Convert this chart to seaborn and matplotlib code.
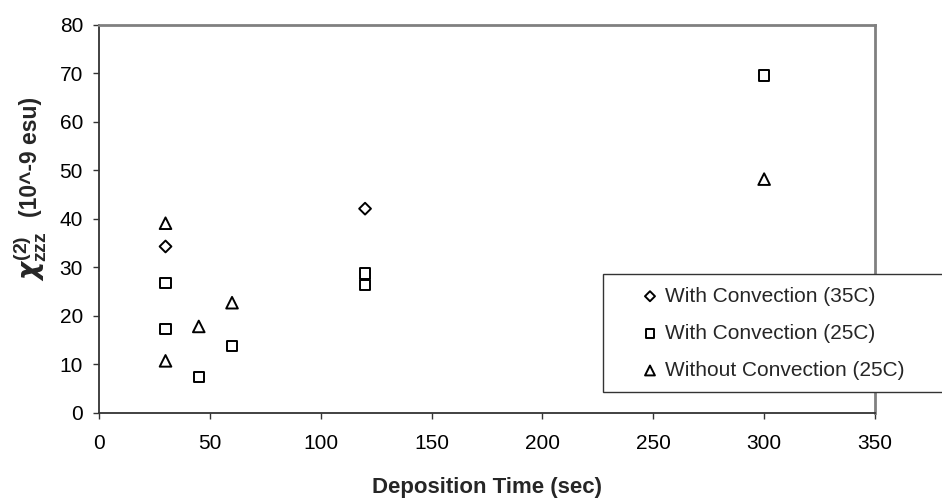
import matplotlib
matplotlib.use("Agg")
import matplotlib.pyplot as plt
from matplotlib.patches import Rectangle
from matplotlib.transforms import IdentityTransform
import seaborn as sns
import pandas as pd

# ---- data ----
series_names = ["With Convection (35C)", "With Convection (25C)", "Without Convection (25C)"]
x_35c = [30, 120]
y_35c = [34.3, 42.1]
x_25c = [30, 30, 45, 60, 120, 120, 300]
y_25c = [26.7, 17.2, 7.3, 13.8, 28.7, 26.4, 69.6]
x_noconv = [30, 30, 45, 60, 300]
y_noconv = [39.1, 10.7, 17.8, 22.7, 48.2]
x_ticks = [0, 50, 100, 150, 200, 250, 300, 350]
y_ticks = [0, 10, 20, 30, 40, 50, 60, 70, 80]
x_title = "Deposition Time (sec)"
y_title_symbol = r"$\chi^{\mathbf{(2)}}_{\mathbf{zzz}}$"
y_title_unit = "(10^-9 esu)"

sns.set_theme(style="white")
plt.rcParams["font.family"] = ["Liberation Sans", "DejaVu Sans"]
plt.rcParams["mathtext.fontset"] = "custom"
plt.rcParams["mathtext.rm"] = "Liberation Sans"
plt.rcParams["mathtext.bf"] = "Liberation Sans:bold"
plt.rcParams["mathtext.it"] = "DejaVu Sans:italic:bold"

W, H = 942, 499
fig = plt.figure(figsize=(W / 100, H / 100), dpi=100)
ax = fig.add_axes([99 / W, 1 - 412.7 / H, 776 / W, 387.7 / H])

df = pd.concat([
    pd.DataFrame({"x": x_35c, "y": y_35c, "series": series_names[0]}),
    pd.DataFrame({"x": x_25c, "y": y_25c, "series": series_names[1]}),
    pd.DataFrame({"x": x_noconv, "y": y_noconv, "series": series_names[2]}),
], ignore_index=True)

markers = {series_names[0]: "D", series_names[1]: "s", series_names[2]: "^"}
sizes = {series_names[0]: 36, series_names[1]: 55, series_names[2]: 70}

for name in series_names:
    sub = df[df["series"] == name]
    sns.scatterplot(data=sub, x="x", y="y", ax=ax, marker=markers[name],
                    s=sizes[name], facecolor="none", edgecolor="black",
                    linewidth=1.4, label=name, legend=False, clip_on=False, zorder=3)

ax.set_xlim(0, 350)
ax.set_ylim(0, 80)
ax.set_xticks(x_ticks)
ax.set_yticks(y_ticks)
ax.tick_params(axis="both", which="both", direction="out", length=4, width=1,
               color="#333333", labelsize=15, labelcolor="black")
ax.tick_params(axis="x", pad=11.2)
ax.tick_params(axis="y", pad=7.5)
ax.tick_params(bottom=True, left=True)

for side in ["left", "bottom"]:
    ax.spines[side].set_color("#333333")
    ax.spines[side].set_linewidth(1.3)
for side in ["top", "right"]:
    ax.spines[side].set_color("#808080")
    ax.spines[side].set_linewidth(2.0)

ax.set_xlabel(x_title, fontsize=16, fontweight="bold")
ax.xaxis.set_label_coords(0.5, -0.166)
ax.set_ylabel("")

# legend box
rect = Rectangle((0.6495, 0.0534), 0.6, 0.3044, transform=ax.transAxes,
                 facecolor="white", edgecolor="#333333", linewidth=1.0,
                 clip_on=False, zorder=4)
ax.add_patch(rect)
handles, labels = ax.get_legend_handles_labels()
leg = ax.legend(handles, labels, loc="upper left", bbox_to_anchor=(0.6966, 0.325),
                frameon=False, fontsize=15, markerscale=0.85, handlelength=1.0,
                handletextpad=0.22, borderpad=0, borderaxespad=0, labelspacing=0.87)
leg.set_zorder(5)

# y-axis title: symbol part + unit part, rotated, reading bottom to top
renderer = fig.canvas.get_renderer()
ident = IdentityTransform()
def put(txt, size, base_x, start_y):
    t = fig.text(base_x, H - start_y, txt, fontsize=size, fontweight="bold",
                 rotation=90, rotation_mode="anchor", ha="left", va="baseline",
                 transform=ident)
    return t.get_window_extent(renderer).height

y0 = 281
h_sym = put(y_title_symbol, 20, 39, y0)
put(y_title_unit, 16.5, 37, y0 - h_sym - 14)

fig.savefig("out.png", dpi=100, facecolor="white")
